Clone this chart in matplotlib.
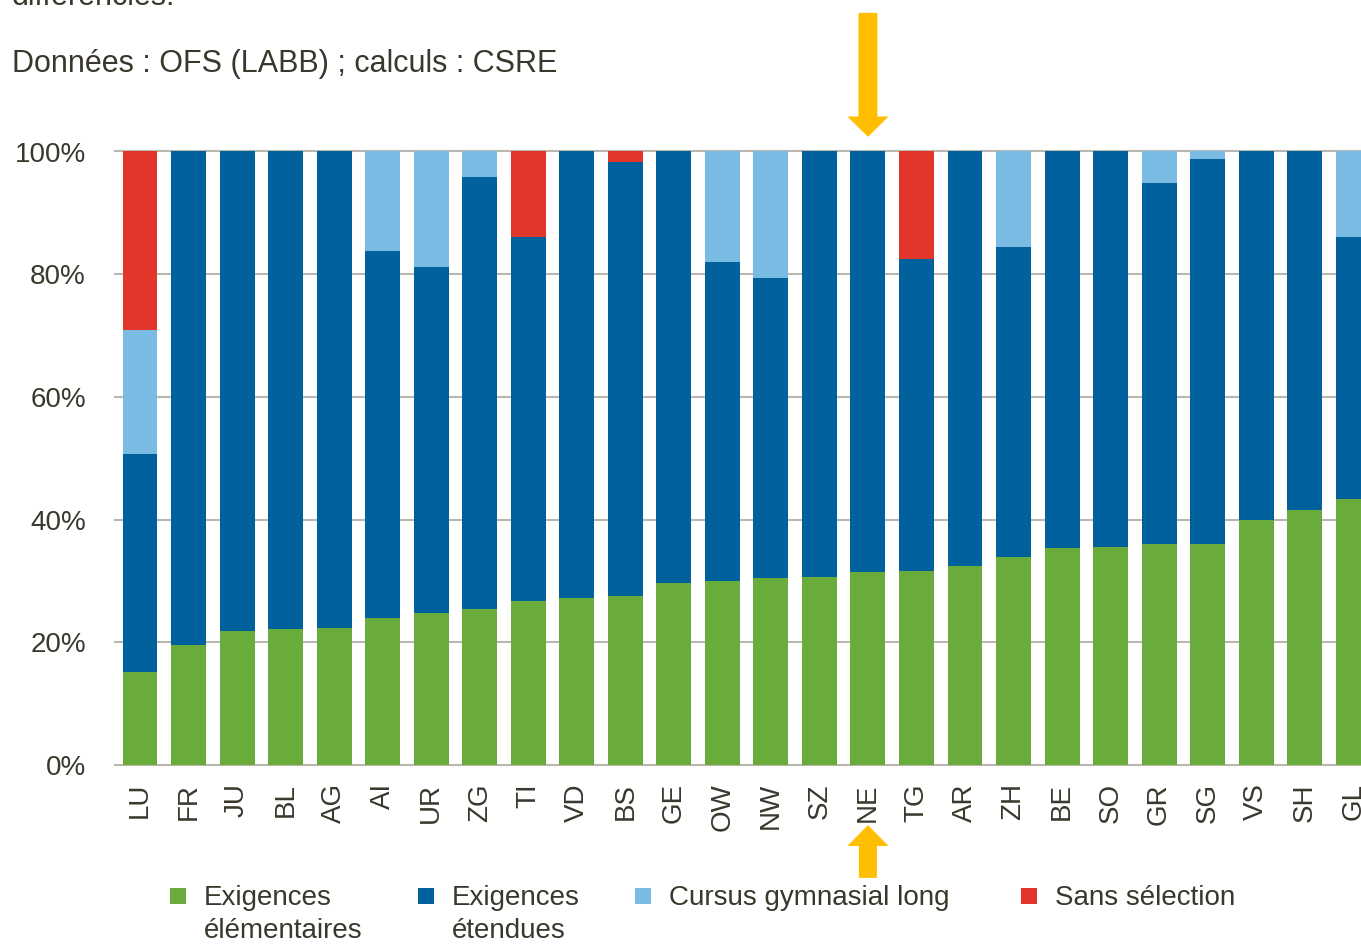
import numpy as np
import matplotlib
matplotlib.use('Agg')
import matplotlib.pyplot as plt
from matplotlib.patches import Rectangle, FancyArrow

plt.rcParams['font.family'] = ['Liberation Sans', 'DejaVu Sans']

# data (parts in %)
cantons = ['LU', 'FR', 'JU', 'BL', 'AG', 'AI', 'UR', 'ZG', 'TI', 'VD', 'BS', 'GE', 'OW',
           'NW', 'SZ', 'NE', 'TG', 'AR', 'ZH', 'BE', 'SO', 'GR', 'SG', 'VS', 'SH', 'GL']
elementaires = [15.1, 19.6, 21.9, 22.2, 22.4, 23.9, 24.7, 25.4, 26.8, 27.2, 27.5, 29.7, 30.0,
                30.4, 30.6, 31.5, 31.6, 32.4, 33.9, 35.3, 35.5, 36.0, 36.1, 39.9, 41.6, 43.4]
etendues = [35.6, 80.4, 78.1, 77.8, 77.6, 59.9, 56.5, 70.4, 59.3, 72.8, 70.8, 70.3, 52.0,
            48.9, 69.4, 68.5, 50.9, 67.6, 50.6, 64.7, 64.5, 58.8, 62.7, 60.1, 58.4, 42.7]
gymnasial = [20.2, 0, 0, 0, 0, 16.2, 18.8, 4.2, 0, 0, 0, 0, 18.0,
             20.7, 0, 0, 0, 0, 15.5, 0, 0, 5.2, 1.2, 0, 0, 13.9]
sans_selection = [29.1, 0, 0, 0, 0, 0, 0, 0, 13.9, 0, 1.7, 0, 0,
                  0, 0, 0, 17.5, 0, 0, 0, 0, 0, 0, 0, 0, 0]
series_labels = ['Exigences\nélémentaires', 'Exigences\nétendues',
                 'Cursus gymnasial long', 'Sans sélection']
colors = ['#69ac3b', '#00619c', '#7abbe4', '#e3362b']
highlight = 'NE'

TXT = '#3a382c'
W, H = 1361, 946
fig = plt.figure(figsize=(W / 100, H / 100), dpi=100)
fx = lambda px: px / W
fy = lambda py: 1 - py / H

ax = fig.add_axes([fx(115), fy(765), 1 - fx(115), fy(151.5) - fy(765)])
x = np.arange(len(cantons))
bottom = np.zeros(len(cantons))
for vals, col in zip([elementaires, etendues, gymnasial, sans_selection], colors):
    vals = np.array(vals)
    ax.bar(x, vals, width=0.72, bottom=bottom, color=col, linewidth=0, zorder=3)
    bottom += vals

ax.set_xlim(-0.515, 25.16)
ax.set_ylim(0, 100)
ax.set_yticks(range(0, 101, 20))
ax.set_yticklabels([f'{v}%' for v in range(0, 101, 20)])
ax.set_xticks(x)
ax.set_xticklabels(cantons, rotation=90)
ax.tick_params(axis='y', length=0, pad=21, labelsize=20, labelcolor=TXT)
ax.tick_params(axis='x', length=0, pad=13, labelsize=20, labelcolor=TXT)
ax.yaxis.grid(True, color='#bab7ae', linewidth=1.5, zorder=0)
for gl in ax.yaxis.get_gridlines():
    gl.set_clip_on(False)
ax.set_axisbelow(True)
for s in ax.spines.values():
    s.set_visible(False)

# arrows pointing at NE
i = cantons.index(highlight)
ax.add_patch(FancyArrow(i, 122.6, 0, -20.2, width=0.39, head_width=0.85, head_length=3.3,
                        length_includes_head=True, color='#ffbe00', linewidth=0,
                        clip_on=False, zorder=5))
ax.add_patch(FancyArrow(i, -18.4, 0, 8.6, width=0.37, head_width=0.85, head_length=3.4,
                        length_includes_head=True, color='#ffbe00', linewidth=0,
                        clip_on=False, zorder=5))

# texts on top
fig.text(fx(12), fy(5), 'différenciés.', fontsize=22, color=TXT, va='baseline')
fig.text(fx(12), fy(72), 'Données : OFS (LABB) ; calculs : CSRE', fontsize=22, color=TXT,
         va='baseline')

# legend (first text line aligned with the square)
legend_x = [170, 418, 635, 1021]
for lx, lab, col in zip(legend_x, series_labels, colors):
    fig.add_artist(Rectangle((fx(lx), fy(904)), fx(16), fy(888) - fy(904),
                             transform=fig.transFigure, color=col, linewidth=0))
    fig.text(fx(lx + 34), fy(885), lab, fontsize=20, color=TXT,
             va='top', linespacing=1.36)

fig.savefig('out.png', dpi=100)
